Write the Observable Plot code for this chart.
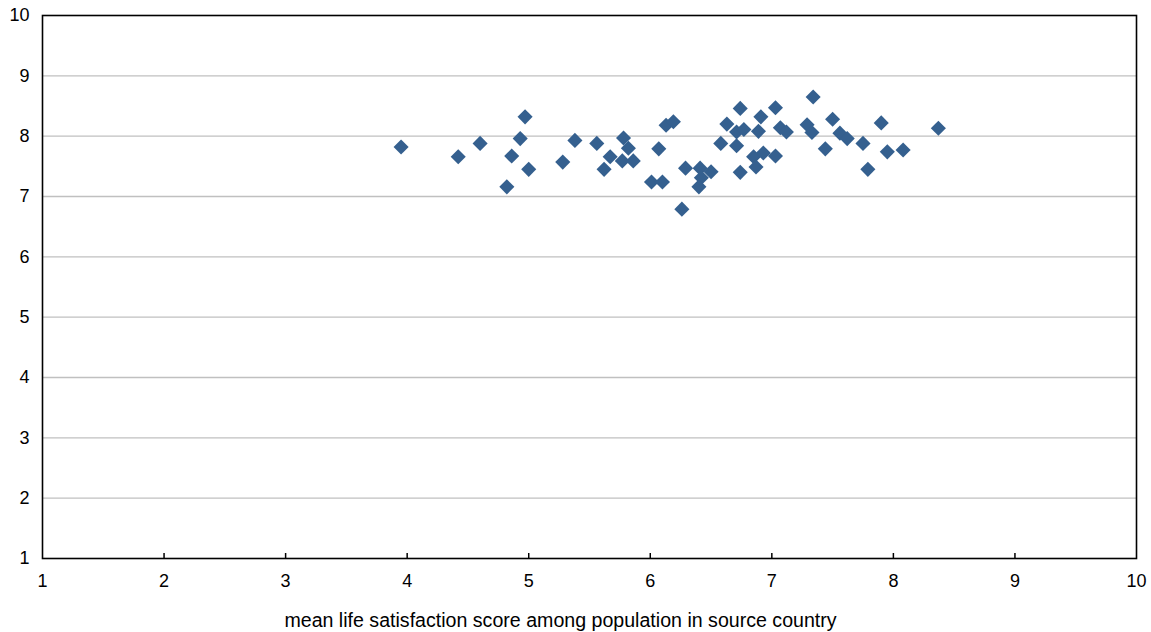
<!DOCTYPE html>
<html>
<head>
<meta charset="utf-8">
<script src="https://cdn.jsdelivr.net/npm/d3@7"></script>
<script src="https://cdn.jsdelivr.net/npm/@observablehq/plot@0.6"></script>
<style>
  html, body { margin: 0; padding: 0; background: #ffffff; }
  #chart svg { display: block; }
  #chart g[aria-label="x-axis tick label"] text,
  #chart g[aria-label="y-axis tick label"] text { font-size: 18px; }
</style>
</head>
<body>
<div id="chart"></div>
<script>
// Mean life satisfaction score among population in source country (x)
const sourceScore = [
  3.95, 4.42, 4.60, 4.97, 4.93, 4.86, 5.00, 4.82, 5.28, 5.38,
  5.56, 5.67, 5.62, 5.78, 5.82, 5.77, 5.86, 6.07, 6.13, 6.19,
  6.01, 6.10, 6.26, 6.29, 6.41, 6.50, 6.42, 6.40, 6.58, 6.63,
  6.74, 6.71, 6.77, 6.71, 6.74, 6.91, 6.89, 7.03, 7.07, 7.12,
  6.85, 6.87, 6.93, 7.03, 7.34, 7.29, 7.33, 7.50, 7.56, 7.62,
  7.44, 7.75, 7.79, 7.90, 7.95, 8.08, 8.37
];
// Life satisfaction score (y)
const lifeScore = [
  7.82, 7.66, 7.88, 8.32, 7.96, 7.67, 7.45, 7.16, 7.57, 7.93,
  7.88, 7.66, 7.45, 7.97, 7.80, 7.59, 7.59, 7.79, 8.18, 8.24,
  7.24, 7.24, 6.79, 7.47, 7.47, 7.41, 7.31, 7.16, 7.88, 8.20,
  8.46, 8.07, 8.11, 7.84, 7.40, 8.32, 8.08, 8.47, 8.14, 8.07,
  7.66, 7.49, 7.72, 7.67, 8.65, 8.19, 8.06, 8.28, 8.05, 7.96,
  7.79, 7.88, 7.45, 8.22, 7.74, 7.77, 8.13
];
const xTicks = [1, 2, 3, 4, 5, 6, 7, 8, 9, 10];
const yTicks = [1, 2, 3, 4, 5, 6, 7, 8, 9, 10];
const xLabel = "mean life satisfaction score among population in source country";

const points = sourceScore.map((x, i) => ({x, y: lifeScore[i]}));

const chart = Plot.plot({
  width: 1151,
  height: 632,
  marginLeft: 42,
  marginRight: 15,
  marginTop: 15,
  marginBottom: 74,
  x: {domain: [1, 10]},
  y: {domain: [1, 10]},
  style: {
    fontFamily: "'Liberation Sans', Arial, sans-serif",
    fontSize: "17px",
    color: "#000000",
    background: "#ffffff"
  },
  marks: [
    Plot.gridY(yTicks.slice(1, -1), {stroke: "#c0c0c0", strokeOpacity: 1, strokeWidth: 1.3}),
    Plot.ruleX(xTicks.slice(1, -1), {y1: 1, y2: 1, insetTop: -5, stroke: "#000000", strokeWidth: 1.5}),
    Plot.axisY(yTicks, {tickSize: 0, tickPadding: 13, label: null, tickFormat: "d", fill: "#000000", fontSize: 18}),
    Plot.axisX(xTicks, {tickSize: 0, tickPadding: 16, label: null, tickFormat: "d", fill: "#000000", fontSize: 18}),
    Plot.dot(points, {x: "x", y: "y", symbol: "diamond2", r: 6.8, fill: "#35608f", stroke: "none"}),
    Plot.frame({stroke: "#000000", strokeWidth: 1.6}),
    Plot.text([xLabel], {frameAnchor: "bottom", dy: 68, dx: -29, fill: "#000000", fontSize: 19.6})
  ]
});
document.getElementById("chart").appendChild(chart);
</script>
</body>
</html>
